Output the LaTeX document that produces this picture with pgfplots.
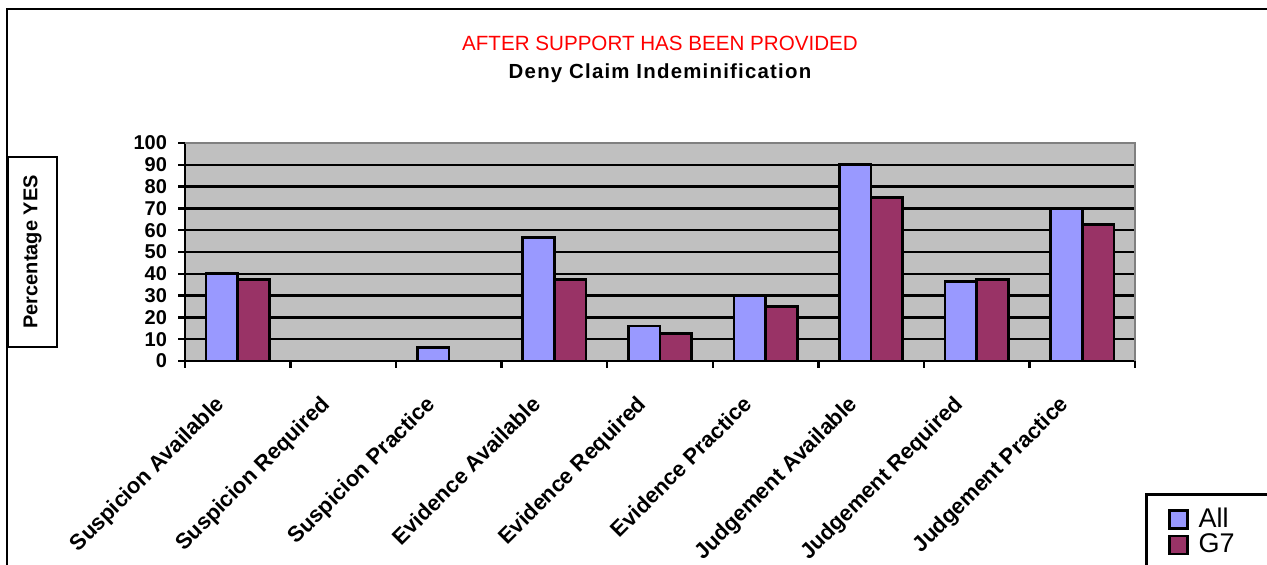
\documentclass[border=0pt]{standalone}
\usepackage{fontspec}
\setmainfont{Liberation Sans}
\usepackage{pgfplots}
\pgfplotsset{compat=1.18}
\usepackage{pgfplotstable}

\definecolor{barAll}{HTML}{9999FF}
\definecolor{barGseven}{HTML}{993366}
\definecolor{plotbg}{HTML}{C0C0C0}
\definecolor{plotedge}{HTML}{808080}
\definecolor{titlered}{HTML}{FF0000}

% Share of "yes" answers per question
\pgfplotstableread{
x  all   gseven
0  40.0  37.5
1  0     0
2  6.3   0
3  56.7  37.5
4  16.1  12.5
5  30.0  25.0
6  90.0  75.0
7  36.4  37.5
8  70.0  62.5
}\yesdata

\begin{document}
\begin{tikzpicture}
\clip (0pt,0pt) rectangle (633.5pt,282.5pt);
\useasboundingbox (0pt,0pt) rectangle (633.5pt,282.5pt);

% chart frame
\draw[black, line width=1pt] (3.5pt,-5pt) -- (3.5pt,278pt) -- (640pt,278pt);

% titles
\node[text=titlered, font=\fontsize{10.3}{12}\selectfont] at (330pt,261pt) {AFTER SUPPORT HAS BEEN PROVIDED};
\node[font=\fontsize{10.2}{12}\selectfont\bfseries\addfontfeatures{LetterSpace=6}] at (330pt,246pt) {Deny Claim Indeminification};

% boxed axis title
\node[draw=black, line width=1.3pt, rotate=90, minimum width=95pt, minimum height=24.5pt,
      inner sep=0pt, font=\fontsize{10}{12}\selectfont\bfseries] at (16.25pt,156.5pt) {Percentage YES};

\begin{axis}[
  at={(92.5pt,102pt)}, anchor=south west,
  scale only axis, width=475pt, height=109pt,
  xmin=-0.5, xmax=8.5, ymin=0, ymax=100,
  axis background/.style={fill=plotbg},
  axis lines*=left,
  axis line style={black, line width=1.3pt},
  ytick={0,10,...,100},
  ymajorgrids,
  major grid style={black, line width=1.2pt},
  tick align=outside,
  major tick length=3.5pt,
  tick style={black, line width=1.2pt},
  xtick={-0.5,0.5,...,8.5},
  x tick label as interval,
  xticklabels={Suspicion Available, Suspicion Required, Suspicion Practice,
    Evidence Available, Evidence Required, Evidence Practice,
    Judgement Available, Judgement Required, Judgement Practice},
  xticklabel style={anchor=north east, inner sep=1pt, xshift=-12pt, yshift=-11.5pt, rotate=45,
    font=\fontsize{11}{12}\selectfont\bfseries},
  yticklabel style={font=\fontsize{10}{12}\selectfont\bfseries, xshift=-2pt},
  /pgf/number format/assume math mode=true,
  legend style={at={(1.0105,-0.6055)}, anchor=north west,
    draw=black, line width=1.3pt, fill=white,
    font=\fontsize{13.5}{13.5}\selectfont,
    inner xsep=11pt, inner ysep=5pt, row sep=-2.5pt,
    /tikz/every odd column/.append style={column sep=3pt}},
  legend cell align=left,
  legend image code/.code={\draw[#1, line width=1.2pt] (0pt,-4.5pt) rectangle (9pt,4.5pt);},
  after end axis/.code={
    \draw[plotedge, line width=1.3pt] (rel axis cs:0,1) -- (rel axis cs:1,1) -- (rel axis cs:1,0);
  },
]
\addplot[ybar, bar width=0.3, bar shift=-0.15, fill=barAll, draw=black, line width=1.3pt]
  table[x=x, y=all] {\yesdata};
\addlegendentry{\makebox[70pt][l]{All}}
\addplot[ybar, bar width=0.3, bar shift=0.15, fill=barGseven, draw=black, line width=1.3pt]
  table[x=x, y=gseven] {\yesdata};
\addlegendentry{G7}
\end{axis}
\end{tikzpicture}
\end{document}
